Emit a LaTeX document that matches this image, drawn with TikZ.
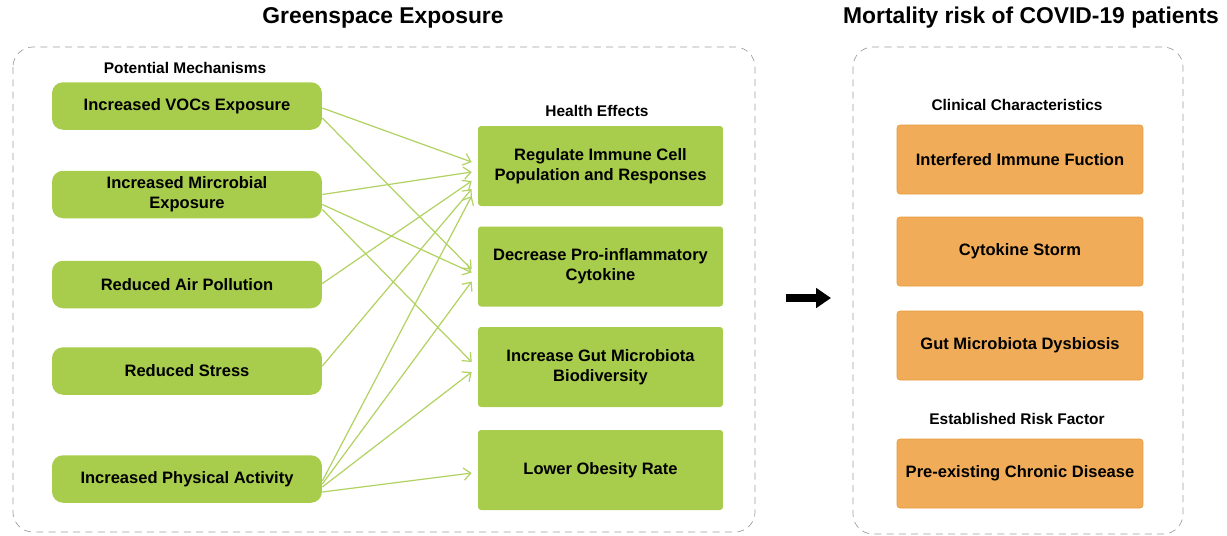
\documentclass[tikz,border=0pt]{standalone}
\usepackage{fontspec}
\setmainfont{Liberation Sans}
\usetikzlibrary{calc}
\usetikzlibrary{arrows.meta}
\usetikzlibrary{positioning}

\definecolor{leaf}{RGB}{168,204,76}
\definecolor{leafline}{RGB}{178,210,100}
\definecolor{peach}{RGB}{240,172,88}
\definecolor{peachline}{RGB}{232,156,64}
\definecolor{frame}{RGB}{160,160,160}

\begin{document}
\begin{tikzpicture}[x=0.02cm,y=-0.02cm,
    mech/.style={fill=leaf,rounded corners=0.22cm,minimum width=5.4cm,minimum height=0.95cm,
        font=\fontsize{9.4}{11.3}\selectfont\bfseries,align=center},
    effect/.style={fill=leaf,rounded corners=0.06cm,minimum width=4.9cm,minimum height=1.6cm,
        font=\fontsize{9.4}{11.3}\selectfont\bfseries,align=center},
    clinic/.style={fill=peach,draw=peachline,rounded corners=0.06cm,minimum width=4.92cm,minimum height=1.38cm,
        font=\fontsize{9.4}{11.3}\selectfont\bfseries,align=center},
    sublabel/.style={font=\fontsize{8.8}{10}\selectfont\bfseries},
    grouptitle/.style={font=\fontsize{13}{15}\selectfont\bfseries},
    groupbox/.style={draw=frame,dashed,dash pattern=on 4pt off 3pt,rounded corners=0.4cm,thin},
    link/.style={leafline,line width=0.7pt,-{Straight Barb[length=4pt,width=7pt]}}]

\useasboundingbox (0,0) rectangle (1227,535);

% group frames and titles
\draw[groupbox] (13,47) rectangle (755,532);
\draw[groupbox] (853,47) rectangle (1183,534);
\node[grouptitle] (green) at (383,18) {Greenspace Exposure};
\node[grouptitle] (covid) at (1031,18) {Mortality risk of COVID-19 patients};

% potential mechanisms
\node[sublabel] (mechlabel) at (185,68) {Potential Mechanisms};
\node[mech] (vocs) at (187,106) {Increased VOCs Exposure};
\node[mech] (micro) at (187,194.5) {Increased Mircrobial\\Exposure};
\node[mech] (air) at (187,284.5) {Reduced Air Pollution};
\node[mech] (stress) at (187,371) {Reduced Stress};
\node[mech] (phys) at (187,479) {Increased Physical Activity};

% health effects
\node[sublabel] (effectlabel) at (597,111) {Health Effects};
\node[effect] (immune) at (600.5,166) {Regulate Immune Cell\\Population and Responses};
\node[effect] (cytokine) at (600.5,266.5) {Decrease Pro-inflammatory\\Cytokine};
\node[effect] (gut) at (600.5,367) {Increase Gut Microbiota\\Biodiversity};
\node[effect] (obesity) at (600.5,470) {Lower Obesity Rate};

% mechanisms -> effects
\foreach \a/\da/\b/\db in {vocs/2/immune/-4, vocs/12/cytokine/3,
    micro/0/immune/6, micro/10/cytokine/6, micro/15/gut/-5,
    air/-1/immune/15, stress/-5/immune/23,
    phys/2/immune/30, phys/5/cytokine/15, phys/8/gut/5, phys/13/obesity/3}
  \draw[link] ($(\a.east)+(0,\da)$) -- ($(\b.west)+(-6,\db)$);

% big arrow
\coordinate (arrowtail) at (786,298);
\coordinate (arrowtip) at (831,298);
\draw[line width=5pt,-{Triangle[length=8.5pt,width=11pt]}] (arrowtail) -- (arrowtip);

% clinical side
\node[sublabel] (cliniclabel) at (1017,105) {Clinical Characteristics};
\node[clinic] (immunefn) at (1020,159.5) {Interfered Immune Fuction};
\node[clinic] (storm) at (1020,251.5) {Cytokine Storm};
\node[clinic] (dysbiosis) at (1020,345.5) {Gut Microbiota Dysbiosis};
\node[sublabel] (risklabel) at (1017,419) {Established Risk Factor};
\node[clinic] (chronic) at (1020,473.5) {Pre-existing Chronic Disease};
\end{tikzpicture}
\end{document}
